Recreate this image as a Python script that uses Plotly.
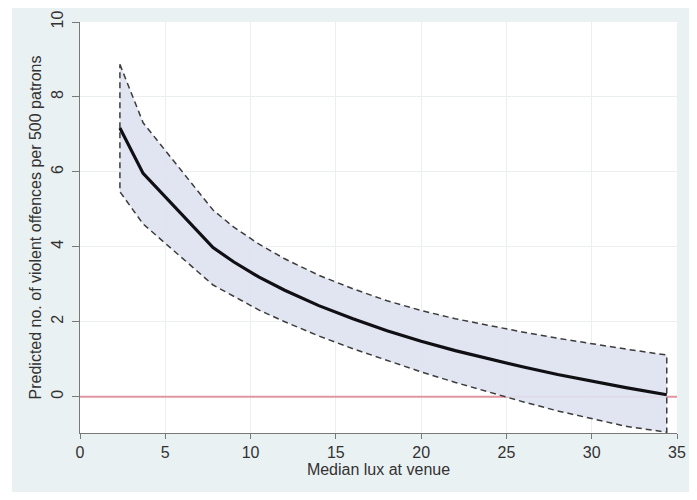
import plotly.graph_objects as go

lux = [2.34, 3.7, 7.8, 9, 10.5, 12, 14, 16, 18, 20, 22, 24, 26, 28, 30, 32, 34.4]
predicted = [7.17, 5.96, 3.98, 3.60, 3.19, 2.84, 2.43, 2.08, 1.76, 1.48, 1.23, 1.00, 0.79, 0.59, 0.41, 0.24, 0.05]
upper_ci = [8.87, 7.31, 4.98, 4.53, 4.07, 3.68, 3.24, 2.88, 2.56, 2.30, 2.08, 1.89, 1.72, 1.56, 1.41, 1.27, 1.11]
lower_ci = [5.47, 4.61, 2.98, 2.67, 2.31, 2.00, 1.62, 1.28, 0.96, 0.66, 0.38, 0.11, -0.14, -0.38, -0.59, -0.79, -0.95]

x_ticks = [0, 5, 10, 15, 20, 25, 30, 35]
y_ticks = [0, 2, 4, 6, 8, 10]
x_range = [0, 35]
y_range = [-0.97, 10]
ref_line_y = 0

fig = go.Figure()

# reference line at zero (drawn beneath the band)
fig.add_trace(go.Scatter(
    x=x_range, y=[ref_line_y, ref_line_y], mode="lines",
    line=dict(color="rgb(224,150,162)", width=2), hoverinfo="skip", showlegend=False))

# confidence band (closed dashed outline)
band_x = lux + lux[::-1] + [lux[0]]
band_y = upper_ci + lower_ci[::-1] + [upper_ci[0]]
fig.add_trace(go.Scatter(
    x=band_x, y=band_y, mode="lines", fill="toself",
    fillcolor="rgba(222,226,240,0.92)",
    line=dict(color="rgb(60,60,60)", width=1.5, dash="6px,4px"),
    hoverinfo="skip", showlegend=False))

fig.add_trace(go.Scatter(
    x=lux, y=predicted, mode="lines",
    line=dict(color="rgb(15,15,20)", width=3.2), showlegend=False))

# Stata-like graph region
fig.add_shape(type="rect", xref="paper", yref="paper",
              x0=-0.114, x1=1.1, y0=-0.2, y1=1.1,
              fillcolor="rgb(234,241,243)", line=dict(width=0), layer="below")
fig.add_shape(type="rect", xref="paper", yref="paper",
              x0=0, x1=1, y0=0, y1=1,
              fillcolor="white", line=dict(width=0), layer="below")

font_col = "rgb(50,50,50)"
fig.update_layout(
    width=681, height=484,
    margin=dict(l=72, r=12, t=14, b=59, autoexpand=False),
    paper_bgcolor="white", plot_bgcolor="rgba(0,0,0,0)",
    font=dict(family="Liberation Sans, Arial, sans-serif", size=16, color=font_col),
    xaxis=dict(range=x_range, tickvals=x_ticks, ticks="outside", ticklen=5,
               tickcolor="rgb(120,120,120)", showline=True, linecolor="rgb(120,120,120)",
               linewidth=1.2, showgrid=True, gridcolor="rgb(236,239,240)", gridwidth=1,
               zeroline=False, automargin=False,
               title=dict(text="Median lux at venue", standoff=0, font=dict(size=16)),
               tickfont=dict(size=16)),
    yaxis=dict(range=y_range, tickvals=y_ticks, ticks="outside", ticklen=7,
               ticklabelstandoff=3,
               tickcolor="rgb(120,120,120)", showline=True, linecolor="rgb(120,120,120)",
               linewidth=1.2, showgrid=True, gridcolor="rgb(236,239,240)", gridwidth=1,
               zeroline=False, tickangle=-90, automargin=False,
               title=dict(text="Predicted no. of violent offences per 500 patrons",
                          standoff=2, font=dict(size=16)),
               tickfont=dict(size=16)),
)

fig.write_html("out.html")
